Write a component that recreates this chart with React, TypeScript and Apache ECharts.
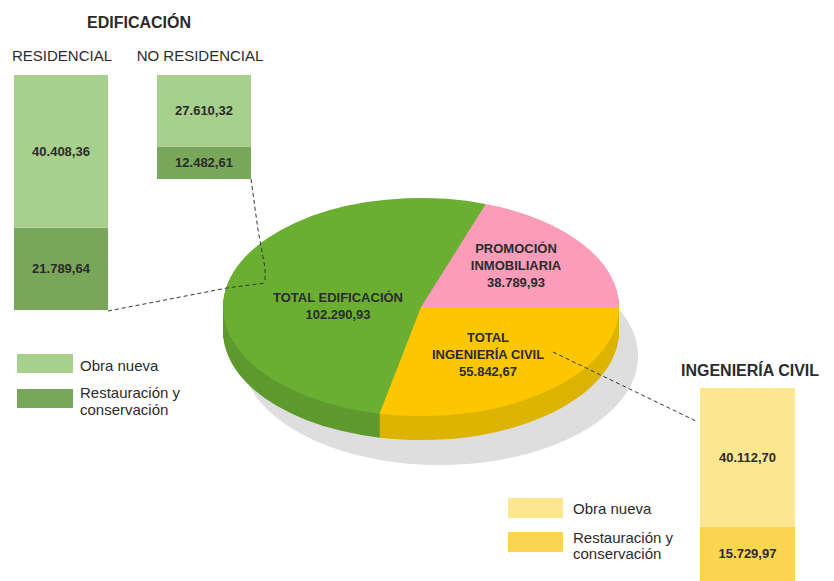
import React, { useEffect, useRef } from "react";
import * as echarts from "echarts";

// ---- data ----
const pieCategories = ["TOTAL EDIFICACIÓN", "PROMOCIÓN\nINMOBILIARIA", "TOTAL\nINGENIERÍA CIVIL"];
const pieValues = [102290.93, 38789.93, 55842.67];
const barSeriesNames = ["Obra nueva", "Restauración y conservación"];
const residencialValues = [40408.36, 21789.64]; // [obra nueva, restauración]
const noResidencialValues = [27610.32, 12482.61];
const civilValues = [40112.7, 15729.97];
const barGroupTitles = ["RESIDENCIAL", "NO RESIDENCIAL"];

// ---- styling / layout ----
const FONT = '"Liberation Sans", Arial, sans-serif';
const TEXT = "#2b2b2b";
const pieTop = ["#6AAF32", "#FB9CB9", "#FDC700"];
const pieSide = ["#5F9A2E", "#D9839D", "#DDB400"];
const clockwiseOrder = [1, 2, 0];
const labelOffsets: [number, number][] = [[-83, -1], [95, -42], [67, 47]];
const CX = 421, CY = 307, RX = 198, RY = 109, DEPTH = 24;
const K = RY / RX;

const fmt = (v: number) => {
  const [i, d] = v.toFixed(2).split(".");
  return i.replace(/\B(?=(\d{3})+(?!\d))/g, ".") + "," + d;
};

const total = pieValues.reduce((a, b) => a + b, 0);
function sliceAngles(idx: number): [number, number] {
  let a = -2 * Math.PI * pieValues[clockwiseOrder[0]] / total;
  for (const j of clockwiseOrder) {
    const span = 2 * Math.PI * pieValues[j] / total;
    if (j === idx) return [a, a + span];
    a += span;
  }
  return [0, 0];
}

const barGrids = [
  { left: 14, top: 75, width: 94, height: 235, values: residencialValues, colors: ["#A7D08C", "#78A75A"] },
  { left: 157, top: 75, width: 94, height: 104, values: noResidencialValues, colors: ["#A7D08C", "#78A75A"] },
  { left: 700, top: 388, width: 95, height: 198, values: civilValues, colors: ["#FCE68E", "#FBD452"] },
];

export default function App() {
  const ref = useRef<HTMLDivElement>(null);
  useEffect(() => {
    if (!ref.current) return;
    const chart = echarts.init(ref.current, undefined, { renderer: "svg" });

    const grid = barGrids.map((g) => ({ left: g.left, top: g.top, width: g.width, height: g.height }));
    const xAxis = barGrids.map((_, i) => ({ type: "category", gridIndex: i, data: [""], show: false }));
    const yAxis = barGrids.map((g, i) => ({
      type: "value", gridIndex: i, min: 0, max: g.values[0] + g.values[1], show: false,
    }));
    const barSeries: any[] = [];
    barGrids.forEach((g, i) => {
      [1, 0].forEach((k) => {
        barSeries.push({
          type: "bar",
          name: barSeriesNames[k],
          xAxisIndex: i,
          yAxisIndex: i,
          stack: "s" + i,
          barWidth: "100%",
          data: [g.values[k]],
          itemStyle: { color: g.colors[k] },
          label: {
            show: true,
            position: "inside",
            formatter: (p: any) => fmt(p.value),
            fontFamily: FONT,
            fontWeight: "bold",
            fontSize: 13,
            color: TEXT,
          },
        });
      });
    });

    const sideSeries = {
      type: "custom",
      coordinateSystem: "none",
      z: 2,
      silent: true,
      data: pieValues.map((v) => [v]),
      renderItem: (params: any) => {
        const idx = params.dataIndex;
        const [a0, a1] = sliceAngles(idx);
        const layers: any[] = [];
        for (let d = DEPTH; d >= 1; d -= 1) {
          layers.push({
            type: "sector",
            shape: { cx: 0, cy: d / K, r: RX, r0: 0, startAngle: a0, endAngle: a1, clockwise: true },
            style: { fill: pieSide[idx] },
          });
        }
        return { type: "group", x: CX, y: CY, scaleY: K, children: layers };
      },
    };

    const topSeries = {
      type: "custom",
      coordinateSystem: "none",
      z: 3,
      silent: true,
      data: pieValues.map((v) => [v]),
      renderItem: (params: any, api: any) => {
        const idx = params.dataIndex;
        const [a0, a1] = sliceAngles(idx);
        const v = api.value(0);
        return {
          type: "group",
          children: [
            {
              type: "group", x: CX, y: CY, scaleY: K,
              children: [{
                type: "sector",
                shape: { cx: 0, cy: 0, r: RX, r0: 0, startAngle: a0, endAngle: a1, clockwise: true },
                style: { fill: pieTop[idx] },
              }],
            },
            {
              type: "text",
              x: CX + labelOffsets[idx][0],
              y: CY + labelOffsets[idx][1],
              z2: 10,
              style: {
                text: pieCategories[idx] + "\n" + fmt(v),
                textAlign: "center",
                textVerticalAlign: "middle",
                font: `bold 13px ${FONT}`,
                fill: TEXT,
                lineHeight: 17,
              },
            },
          ],
        };
      },
    };

    const txt = (x: number, y: number, text: string, size: number, bold = false, align = "left", lh = 17) => ({
      type: "text", x, y, z: 20,
      style: {
        text, font: `${bold ? "bold " : ""}${size}px ${FONT}`, fill: TEXT,
        textAlign: align, textVerticalAlign: "middle", lineHeight: lh,
      },
    });
    const rect = (x: number, y: number, w: number, h: number, fill: string) => ({
      type: "rect", z: 20, shape: { x, y, width: w, height: h }, style: { fill },
    });
    const dashed = (pts: number[][]) => ({
      type: "polyline", z: 30, shape: { points: pts },
      style: { stroke: "#333", lineWidth: 1, lineDash: [4, 3], fill: null },
    });

    chart.setOption({
      animation: false,
      grid,
      xAxis,
      yAxis,
      series: [...barSeries, sideSeries, topSeries],
      graphic: [
        { type: "ellipse", z: 0, shape: { cx: 440, cy: 356, rx: 198, ry: 109 }, style: { fill: "#DEDEDE" } },
        txt(139, 22, "EDIFICACIÓN", 16, true, "center"),
        txt(62, 55, barGroupTitles[0], 15, false, "center"),
        txt(200, 55, barGroupTitles[1], 15, false, "center"),
        txt(681, 370, "INGENIERÍA CIVIL", 16, true, "left"),
        rect(17, 354, 56, 19, barGrids[0].colors[0]),
        txt(80, 365, barSeriesNames[0], 15),
        rect(17, 389, 56, 19, barGrids[0].colors[1]),
        txt(80, 401, "Restauración y\nconservación", 15, false, "left", 17),
        rect(508, 498, 55, 20, barGrids[2].colors[0]),
        txt(573, 508, barSeriesNames[0], 15),
        rect(508, 532, 55, 20, barGrids[2].colors[1]),
        txt(573, 545, "Restauración y\nconservación", 15, false, "left", 16),
        dashed([[108, 311], [227, 288], [265, 283]]),
        dashed([[251, 179], [258, 230], [265, 268], [265, 283]]),
        dashed([[553, 352], [698, 422]]),
      ],
    });
    return () => chart.dispose();
  }, []);
  return (
    <div
      ref={ref}
      style={{ position: "absolute", left: 0, top: 0, width: 834, height: 581, background: "#fff" }}
    />
  );
}
